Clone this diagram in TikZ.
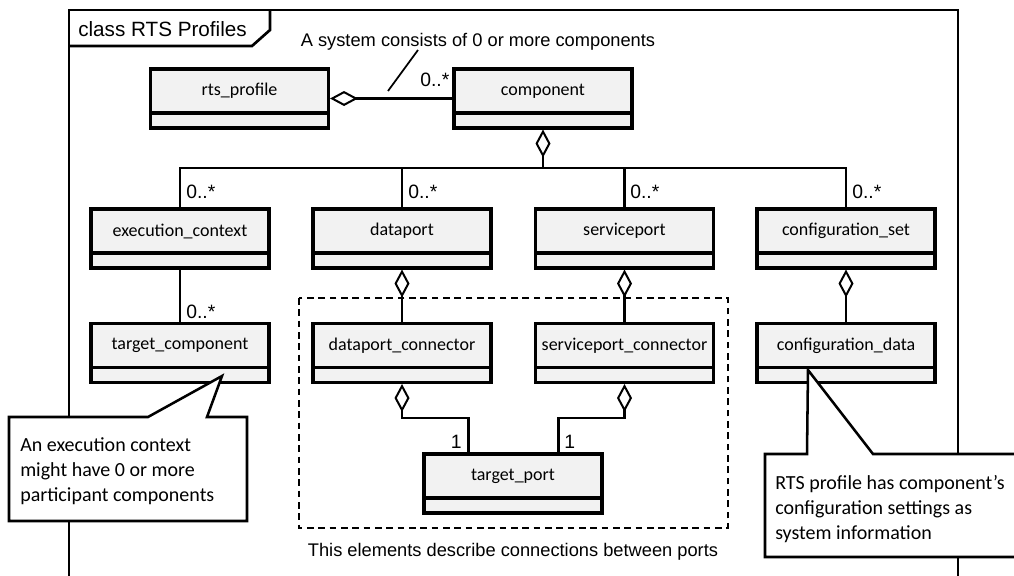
\documentclass[tikz,border=0pt]{standalone}
\usepackage{fontspec}
\setmainfont{Carlito}
\newfontfamily\arialf{Liberation Sans}
\usetikzlibrary{arrows.meta,calc}
\definecolor{boxgray}{HTML}{F2F2F2}
\newcommand\boxfont{\fontsize{13.5}{16}\selectfont}
\newcommand\notefont{\fontsize{15}{18.75}\selectfont}
\newcommand\capfont{\arialf\fontsize{13.7}{16}\selectfont}
\newcommand\multfont{\arialf\fontsize{14.5}{17}\selectfont}
\newcommand\titlefont{\arialf\fontsize{15.5}{18}\selectfont}
\begin{document}
\begin{tikzpicture}[x=0.75pt,y=-0.75pt,
  classbox/.style={draw, line width=2.3pt, fill=boxgray,
    minimum width=133.5pt, minimum height=44.25pt, inner sep=0pt,
    path picture={\draw[line width=2.3pt]
      ([yshift=11.25pt]path picture bounding box.south west) --
      ([yshift=11.25pt]path picture bounding box.south east);}},
  boxlabel/.style={label={[font=\boxfont,yshift=5.625pt]center:#1}},
  conn/.style={draw, line width=1.95pt},
  agg/.style={conn, {Diamond[fill=white,length=21pt,width=11.25pt,line width=1.5pt]}-},
  mult/.style={font=\multfont, inner sep=0pt},
  note/.style={draw, line width=1.9pt, fill=white, line join=miter},
  frame/.style={draw, line width=2pt}
]
\clip (0,0) rectangle (1014,575);
\fill[white] (0,0) rectangle (1014,575);

% frame
\coordinate (fbl) at (69,590);
\coordinate (ftl) at (69,10);
\coordinate (ftr) at (958,10);
\coordinate (fbr) at (958,590);
\draw[frame] (fbl) -- (ftl) -- (ftr) -- (fbr);
\draw[frame] (69,46) -- (252,46) -- (270,30) -- (270,10);
\node[font=\titlefont, anchor=west, inner sep=0pt] (title) at (78,29) {class RTS Profiles};

% boxes
\node[classbox,boxlabel={rts\_profile}] (rts) at (239.5,98.5) {};
\node[classbox,boxlabel={component}] (comp) at (543,98.5) {};
\node[classbox,boxlabel={execution\_context}] (ec) at (180,238.5) {};
\node[classbox,boxlabel={dataport}] (dp) at (402,238.5) {};
\node[classbox,boxlabel={serviceport}] (sp) at (624.5,238.5) {};
\node[classbox,boxlabel={configuration\_set}] (cs) at (846,238.5) {};
\node[classbox,boxlabel={target\_component}] (tc) at (180,353) {};
\node[classbox,boxlabel={dataport\_connector}] (dpc) at (402,353) {};
\node[classbox,boxlabel={serviceport\_connector}] (spc) at (624.5,353) {};
\node[classbox,boxlabel={configuration\_data}] (cd) at (846,353) {};
\node[classbox,boxlabel={target\_port}] (tp) at (513,483.5) {};

% dashed group
\draw[line width=1.8pt, dash pattern=on 5pt off 3.5pt] (299,298) rectangle (728,528);
\node[font=\capfont, inner sep=0pt] (grpcap) at (513,552) {This elements describe connections between ports};

% connectors
\coordinate (busy) at (0,168);
\draw[agg] (rts.east) -- (comp.west);
\node[mult, anchor=west] (m0) at (420,80) {0..*};
\coordinate (annot) at (418,50);
\coordinate (annotfoot) at (388,91);
\draw[line width=1.3pt] (annotfoot) -- (annot);
\node[font=\capfont, inner sep=0pt] (syscap) at (478,42) {A system consists of 0 or more components};

\draw[agg] (comp.south) -- (comp.south |- busy);
\draw[conn] (ec.north) -- (ec.north |- busy) -- (cs.north |- busy) -- (cs.north);
\draw[conn] (dp.north) -- (dp.north |- busy);
\draw[conn] (sp.north) -- (sp.north |- busy);
\node[mult, anchor=west] (m1) at (186,192) {0..*};
\node[mult, anchor=west] (m2) at (408,192) {0..*};
\node[mult, anchor=west] (m3) at (630,192) {0..*};
\node[mult, anchor=west] (m4) at (852,192) {0..*};

\draw[conn] (ec.south) -- (tc.north);
\node[mult, anchor=west] (m5) at (186,312) {0..*};

\draw[agg] (dp.south) -- (dpc.north);
\draw[agg] (sp.south) -- (spc.north);
\draw[agg] (cs.south) -- (cd.north);

\coordinate (tpl) at ($(tp.north west)+(46,0)$);
\coordinate (tpr) at ($(tp.north east)+(-45,0)$);
\draw[agg] (dpc.south) -- ++(0,34) -| (tpl);
\draw[agg] (spc.south) -- ++(0,34) -| (tpr);
\node[mult, anchor=east] (m6) at (462,442) {1};
\node[mult, anchor=west] (m7) at (564,442) {1};

% notes
\draw[note] (9,417) -- (148,417) -- (222,376) -- (207,417) -- (247,417) -- (247,521) -- (9,521) -- cycle;
\node[font=\notefont, align=left, anchor=west, inner sep=0pt] (note1) at (20,471)
  {An execution context\\might have 0 or more\\participant components};
\draw[note] (765,454) -- (807,454) -- (808,370) -- (873,454) -- (1020,454) -- (1020,557) -- (765,557) -- cycle;
\node[font=\notefont, align=left, anchor=west, inner sep=0pt] (note2) at (775,509)
  {RTS profile has component’s\\configuration settings as\\system information};
\end{tikzpicture}
\end{document}
